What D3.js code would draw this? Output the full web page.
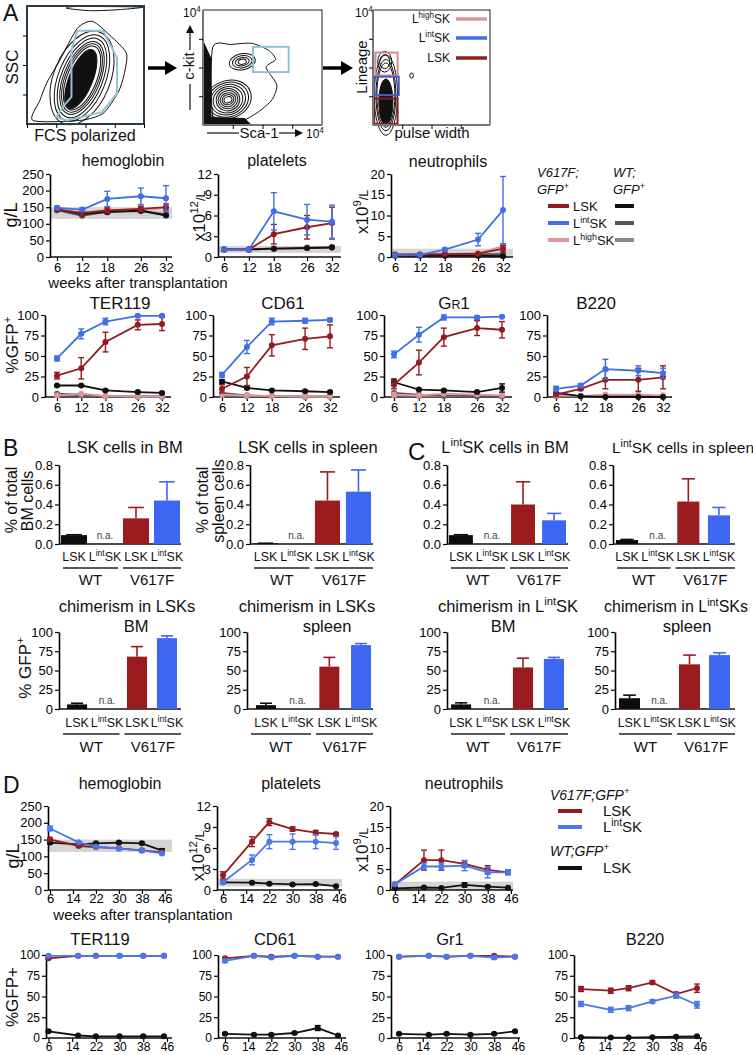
<!DOCTYPE html>
<html>
<head>
<meta charset="utf-8">
<script src="https://cdn.jsdelivr.net/npm/d3@7"></script>
<style>
  body { margin: 0; background: #fff; }
  svg { display: block; }
</style>
</head>
<body>
<svg id="fig" width="753" height="1055"></svg>
<script>
// ---------- data ----------
const weeksA = [6, 12, 18, 26, 32];
const weeksD = [6, 16, 22, 30, 38, 45];
const tickWeeksD = [6, 14, 22, 30, 38, 46];

// panel A rows: V617F LSK, V617F LintSK, V617F LhighSK, WT LSK, WT LintSK, WT LhighSK
const seriesA = ["V617F LSK", "V617F LintSK", "V617F LhighSK", "WT LSK", "WT LintSK", "WT LhighSK"];
const colorsA = ["#931c20", "#3f6fe6", "#e0959b", "#111111", "#555555", "#8a8a8a"];

const hgbA = [[143, 133, 140, 145, 150], [148, 143, 175, 183, 177], [145, 132, 141, 143, 148],
              [143, 130, 135, 140, 125], [141, 124, 137, 138, 127], [142, 127, 138, 139, 130]];
const hgbA_err = [[4, 8, 8, 8, 10], [5, 5, 23, 25, 38], null, [3, 4, 4, 4, 2], null, null];
const pltA = [[1.1, 1.1, 3.3, 4.3, 4.9], [1.1, 1.1, 6.6, 5.4, 5.1], [1.1, 1.1, 1.3, 1.4, 1.5],
              [1.1, 1.1, 1.2, 1.3, 1.4], [1.1, 1.1, 1.2, 1.3, 1.4], [1.1, 1.1, 1.2, 1.3, 1.3]];
const pltA_err = [[0.1, 0.1, 1.4, 1.7, 2.3], [0.1, 0.1, 2.7, 2.2, 2.4], null, null, null, null];
const neuA = [[0.6, 0.6, 0.7, 0.8, 2.0], [0.4, 0.5, 1.8, 4.2, 11.3], [0.6, 0.6, 0.7, 0.9, 2.6],
              [0.3, 0.3, 0.3, 0.3, 0.2], [0.5, 0.5, 0.5, 0.6, 0.6], [0.5, 0.6, 0.6, 0.7, 0.8]];
const neuA_err = [[0.1, 0.1, 0.1, 0.2, 0.8], [0.1, 0.1, 0.3, 1.5, 8.1], [0.1, 0.1, 0.1, 0.2, 0.6], null, null, null];
const terA = [[26, 35, 67, 88, 89], [47, 77, 92, 99, 99], [2, 4, 1, 1, 1],
              [14, 14, 8, 6, 5], [4, 3, 1, 1, 1], [2, 2, 1, 0, 0]];
const terA_err = [[4, 13, 12, 6, 8], [3, 6, 4, 1, 1], null, [1, 1, 1, 1, 1], null, null];
const cd61A = [[10, 25, 63, 71, 74], [27, 61, 92, 93, 94], [3, 2, 1, 1, 1],
               [19, 11, 8, 7, 6], [5, 2, 1, 1, 1], [2, 1, 1, 0, 0]];
const cd61A_err = [[5, 11, 13, 13, 14], [3, 8, 4, 3, 2], null, [2, 1, 1, 1, 1], null, null];
const gr1A = [[15, 42, 73, 84, 82], [52, 76, 97, 97, 98], [3, 2, 4, 3, 2],
              [18, 9, 8, 6, 11], [5, 3, 2, 1, 1], [2, 1, 1, 1, 1]];
const gr1A_err = [[5, 15, 11, 9, 10], [4, 9, 3, 2, 1], null, [4, 1, 1, 1, 5], null, null];
const b220A = [[3, 10, 21, 21, 24], [10, 14, 34, 32, 29], [2, 1, 3, 3, 2],
               [5, 1, 0, 0, 0], [2, 1, 1, 1, 1], [1, 1, 1, 1, 1]];
const b220A_err = [[1, 2, 11, 14, 14], [3, 2, 12, 6, 6], null, null, null, null];

// panel D rows: V617F LSK, V617F LintSK, WT LSK
const colorsD = ["#931c20", "#4a78e8", "#111111"];
const hgbD = [[151, 131, 128, 124, 118, 112], [183, 142, 129, 123, 117, 109], [141, 136, 139, 141, 139, 117]];
const hgbD_err = [[4, 4, 4, 3, 3, 3], [7, 3, 3, 3, 4, 4], [4, 3, 3, 3, 3, 6]];
const pltD = [[2.1, 6.9, 9.7, 8.7, 8.2, 8.0], [1.1, 4.3, 6.9, 6.9, 6.9, 6.7], [1.1, 1.05, 0.9, 0.8, 0.85, 0.55]];
const pltD_err = [[0.5, 0.7, 0.5, 0.3, 0.3, 0.2], [0.2, 0.7, 1.0, 1.1, 1.0, 0.9], [0.1, 0.1, 0.1, 0.1, 0.1, 0.1]];
const neuD = [[1.3, 7.1, 7.1, 6.2, 4.8, 4.2], [1.4, 5.6, 5.6, 5.8, 4.2, 4.2], [0.4, 0.6, 0.5, 1.2, 0.8, 0.55]];
const neuD_err = [[0.3, 2.4, 2.4, 0.8, 1.0, 0.5], [0.3, 0.8, 0.8, 1.2, 1.3, 0.6], [0.1, 0.1, 0.1, 0.5, 0.2, 0.1]];
const terD = [[96, 99, 99, 99, 99, 99], [99, 99, 99, 99, 99, 99], [8, 3, 2, 2, 2, 2]];
const terD_err = [[1, 1, 1, 1, 1, 1], [1, 1, 1, 1, 1, 1], [1, 1, 1, 1, 1, 1]];
const cd61D = [[96, 99, 98, 99, 98, 98], [93, 99, 97, 99, 98, 98], [5, 4, 4, 6, 12, 3]];
const cd61D_err = [[1, 1, 1, 1, 1, 1], [2, 1, 1, 1, 1, 1], [1, 1, 1, 1, 3, 1]];
const gr1D = [[98, 99, 98, 99, 99, 98], [98, 99, 98, 99, 97, 98], [5, 4, 5, 4, 5, 8]];
const gr1D_err = [[1, 1, 1, 1, 1, 1], [1, 1, 1, 1, 2, 1], [1, 1, 1, 1, 1, 1]];
const b220D = [[59, 57, 60, 67, 53, 60], [41, 34, 36, 44, 51, 40], [1, 0.5, 0.5, 1, 1.5, 2]];
const b220D_err = [[3, 3, 3, 2, 2, 5], [3, 3, 3, 2, 3, 4], [0.5, 0.5, 0.5, 0.5, 0.5, 0.5]];

// panels B and C bars: WT LSK, WT LintSK (n.a.), V617F LSK, V617F LintSK
const barCats = ["WT LSK", "WT LintSK", "V617F LSK", "V617F LintSK"];
const barLabels = ["LSK", "L^{int}SK", "LSK", "L^{int}SK"];
const barColors = ["#0d0d0d", "#0d0d0d", "#9a1c1f", "#3d66f2"];
const lskBM = [0.09, null, 0.26, 0.44],       lskBM_err = [0.004, null, 0.11, 0.19];
const lskSpleen = [0.006, null, 0.44, 0.53],  lskSpleen_err = [0.002, null, 0.29, 0.22];
const lintBM = [0.09, null, 0.40, 0.24],      lintBM_err = [0.004, null, 0.23, 0.07];
const lintSpleen = [0.04, null, 0.43, 0.29],  lintSpleen_err = [0.006, null, 0.23, 0.08];
const chimLskBM = [6, null, 68, 92],          chimLskBM_err = [1.5, null, 13, 3];
const chimLskSpleen = [5, null, 55, 83],      chimLskSpleen_err = [2.5, null, 12, 2];
const chimLintBM = [6, null, 54, 65],         chimLintBM_err = [2, null, 12, 2];
const chimLintSpleen = [14, null, 58, 70],    chimLintSpleen_err = [4, null, 12, 3];

// flow plots (0-100 display units)
const flow1Levels = [[42, 24], [39, 20], [36, 17.5], [33, 15.5], [31, 14], [29, 12.5]];
const flow1Outer = [[5, 3], [11, 20], [17, 35], [28, 54], [43, 81], [56, 87], [71, 75], [85, 60], [83, 42], [78, 27], [65, 9], [45, 3]];
const flow1Top = [[34, 98], [55, 96], [80, 97], [99, 99], [70, 99.5], [40, 99.5]];
const flow1Gate = [[43, 79], [65, 79], [77, 56], [77, 26], [64, 10], [34, 3], [25, 6], [31, 15], [38, 23], [38, 63]];
const flow2Levels = [[20, 16.5], [17.6, 14.8], [15, 13], [12.6, 11.3], [10, 9.6], [8.4, 7.8], [6.7, 6], [5, 4.3], [3.4, 2.6]];
const flow2Small = [[11, 7], [8.4, 5.2], [5.9, 3.5], [3.4, 2.2]];
const flow2Outer = [[8, 67], [24, 70], [41, 71], [55, 65], [61, 57], [53, 50], [62, 35], [58, 22], [46, 11], [31, 3], [9, 3]];
const flow2Wedge = [[0, 74], [7, 58], [7, 7], [35, 6], [41, 0], [0, 0]];
const flow2Gate = [42, 46, 72, 68];
const flow3Levels = [[10, 35], [8.5, 31], [7.7, 28]];
const flow3Top = [[6, 9], [4.3, 6]];
const flow3Gates = [[2, 43, 21, 63, "#d98a90"], [1, 26, 22, 42, "#3f5fd0"], [1, 1, 21, 23, "#8b1a1d"]];

// ---------- helpers ----------
const FONT = "'Liberation Sans', Arial, Helvetica, sans-serif";
const svg = d3.select("#fig");
svg.append("rect").attr("width", 753).attr("height", 1055).attr("fill", "#fff");

function rich(t, s, fs) {
  const parts = s.split(/(\^\{[^}]*\}|_\{[^}]*\})/).filter(p => p !== "");
  let cur = 0;
  parts.forEach(p => {
    let txt = p, off = 0, size = fs;
    if (p.startsWith("^{")) { txt = p.slice(2, -1); off = -0.4 * fs; size = 0.68 * fs; }
    else if (p.startsWith("_{")) { txt = p.slice(2, -1); size = 0.72 * fs; }
    t.append("tspan").attr("dy", off - cur).attr("font-size", size).text(txt);
    cur = off;
  });
}

function label(x, y, s, fs, opts = {}) {
  const t = svg.append("text")
    .attr("x", x).attr("y", y)
    .attr("font-size", fs).attr("font-family", FONT)
    .attr("text-anchor", opts.anchor || "middle")
    .attr("fill", opts.fill || "#111");
  if (opts.rotate) t.attr("transform", `rotate(${opts.rotate},${x},${y})`);
  if (opts.italic) t.attr("font-style", "italic");
  rich(t, s, fs);
  return t;
}

function lineChart(o) {
  const x = d3.scaleLinear().domain([o.weeks[0], o.weeks[o.weeks.length - 1]]).range(o.px);
  const y = d3.scaleLinear().domain([0, o.yMax]).range([o.yBot, o.yTop]);
  const g = svg.append("g");
  if (o.band) {
    g.append("rect")
      .attr("x", o.axisX).attr("y", y(o.band[1]))
      .attr("width", o.xEnd - o.axisX).attr("height", y(o.band[0]) - y(o.band[1]))
      .attr("fill", "#d5d5d5");
  }
  const ya = g.append("g").attr("transform", `translate(${o.axisX},0)`)
    .call(d3.axisLeft(y).tickValues(o.yTicks).tickSize(4).tickSizeOuter(0).tickPadding(2))
    .attr("font-size", o.fs).attr("font-family", FONT);
  ya.select(".domain").attr("stroke-width", 1.6);
  ya.selectAll(".tick line").attr("stroke-width", 1.2);
  const xa = g.append("g").attr("transform", `translate(0,${o.yBot})`)
    .call(d3.axisBottom(x).tickValues(o.xTicks).tickFormat(d3.format("d")).tickSize(4).tickPadding(o.xPad))
    .attr("font-size", o.fs).attr("font-family", FONT);
  xa.select(".domain").remove();
  xa.selectAll(".tick line").attr("stroke-width", 1.2);
  g.append("line")
    .attr("x1", o.axisX).attr("x2", o.xEnd).attr("y1", o.yBot).attr("y2", o.yBot)
    .attr("stroke", "#111").attr("stroke-width", 1.6);

  o.order.forEach(i => {
    const col = o.colors[i];
    const errs = o.err ? o.err[i] : null;
    const pts = o.weeks.map((w, k) => ({ w, v: o.vals[i][k], e: errs ? errs[k] : 0 }));
    g.append("path").datum(pts)
      .attr("fill", "none").attr("stroke", col).attr("stroke-width", 1.8)
      .attr("d", d3.line().x(d => x(d.w)).y(d => y(d.v)));
    const eb = g.append("g").attr("stroke", col).attr("stroke-width", 1.4);
    pts.filter(d => d.e > 0).forEach(d => {
      const lo = Math.max(0, d.v - d.e), hi = d.v + d.e;
      eb.append("line").attr("x1", x(d.w)).attr("x2", x(d.w)).attr("y1", y(lo)).attr("y2", y(hi));
      [lo, hi].forEach(v => eb.append("line")
        .attr("x1", x(d.w) - 3).attr("x2", x(d.w) + 3).attr("y1", y(v)).attr("y2", y(v)));
    });
    g.append("g").selectAll("circle").data(pts).join("circle")
      .attr("cx", d => x(d.w)).attr("cy", d => y(d.v)).attr("r", 3).attr("fill", col);
  });
  if (o.title) label(o.titleX, o.titleY, o.title, o.titleFs || 16);
}

function barChart(o) {
  const x = d3.scaleBand().domain(barCats).range(o.band).paddingInner(o.pad).paddingOuter(0);
  const y = d3.scaleLinear().domain([0, o.yMax]).range([o.yBot, o.yTop]);
  const bw = x.bandwidth();
  const g = svg.append("g");
  const ya = g.append("g").attr("transform", `translate(${o.axisX},0)`)
    .call(d3.axisLeft(y).tickValues(o.yTicks).tickFormat(o.fmt).tickSize(4).tickSizeOuter(0).tickPadding(2))
    .attr("font-size", 13).attr("font-family", FONT);
  ya.select(".domain").attr("stroke-width", 1.6);
  ya.selectAll(".tick line").attr("stroke-width", 1.2);
  g.append("line")
    .attr("x1", o.axisX).attr("x2", o.xEnd).attr("y1", o.yBot).attr("y2", o.yBot)
    .attr("stroke", "#111").attr("stroke-width", 1.6);

  barCats.forEach((c, i) => {
    const v = o.vals[i], e = o.err[i];
    const cx = x(c) + bw / 2;
    label(cx, o.labY, barLabels[i], 12.5);
    if (v == null) {
      label(cx, o.yBot - 5, "n.a.", 10, { fill: "#444" });
      return;
    }
    g.append("rect")
      .attr("x", x(c)).attr("width", bw)
      .attr("y", y(v)).attr("height", o.yBot - y(v))
      .attr("fill", barColors[i]);
    g.append("line").attr("x1", cx).attr("x2", cx).attr("y1", y(v)).attr("y2", y(v + e))
      .attr("stroke", barColors[i]).attr("stroke-width", 1.6);
    g.append("line").attr("x1", cx - bw * 0.3).attr("x2", cx + bw * 0.3)
      .attr("y1", y(v + e)).attr("y2", y(v + e))
      .attr("stroke", barColors[i]).attr("stroke-width", 1.6);
  });

  const mid = (x(barCats[1]) + bw + x(barCats[2])) / 2;
  const groups = [["WT", o.axisX + 4, mid - 2.5], ["V617F", mid + 2.5, o.xEnd]];
  groups.forEach(([name, a, b]) => {
    g.append("line").attr("x1", a).attr("x2", b).attr("y1", o.lineY).attr("y2", o.lineY)
      .attr("stroke", "#222").attr("stroke-width", 1.3);
    label((a + b) / 2, o.grpY, name, 15);
  });
  o.titles.forEach(([s, tx, ty, fs]) => label(tx, ty, s, fs || 16.5));
  (o.ylab || []).forEach(([s, lx, ly, fs]) => label(lx, ly, s, fs, { rotate: -90 }));
}

function ellipse(g, cx, cy, rx, ry, rot, fill, sw) {
  g.append("ellipse")
    .attr("cx", cx).attr("cy", cy).attr("rx", rx).attr("ry", ry)
    .attr("transform", `rotate(${rot},${cx},${cy})`)
    .attr("fill", fill || "none").attr("stroke", "#111").attr("stroke-width", sw || 1);
}

function arrow(x1, x2, y) {
  svg.append("line").attr("x1", x1).attr("x2", x2 - 10).attr("y1", y).attr("y2", y)
    .attr("stroke", "#000").attr("stroke-width", 3.5);
  svg.append("path").attr("d", `M${x2 - 12},${y - 7} L${x2},${y} L${x2 - 12},${y + 7} Z`).attr("fill", "#000");
}

// ---------- panel A: flow plots ----------
label(3, 21, "A", 23, { anchor: "start" });

// plot 1
{
  const fx = d3.scaleLinear().domain([0, 100]).range([27, 144]);
  const fy = d3.scaleLinear().domain([0, 100]).range([124, 6]);
  const g = svg.append("g");
  const closed = d3.line().x(d => fx(d[0])).y(d => fy(d[1])).curve(d3.curveCardinalClosed.tension(0.3));
  g.append("path").attr("d", closed(flow1Outer)).attr("fill", "none").attr("stroke", "#111");
  g.append("path").attr("d", closed(flow1Top)).attr("fill", "none").attr("stroke", "#111");
  const cx = fx(47), cy = fy(39);
  flow1Levels.forEach(([rx, ry]) => ellipse(g, cx, cy, fx(rx) - fx(0), fy(0) - fy(ry), -68));
  ellipse(g, fx(46), fy(38), fx(27) - fx(0), fy(0) - fy(10), -68, "#111");
  g.append("path").attr("d", d3.line().x(d => fx(d[0])).y(d => fy(d[1])).curve(d3.curveLinearClosed)(flow1Gate))
    .attr("fill", "none").attr("stroke", "#8fc4d6").attr("stroke-width", 2);
  g.append("rect").attr("x", 27).attr("y", 6).attr("width", 117).attr("height", 118)
    .attr("fill", "none").attr("stroke", "#2b3a47").attr("stroke-width", 2);
  g.append("g").attr("transform", "translate(27,0)")
    .call(d3.axisLeft(fy).tickValues([25, 50, 75]).tickFormat("").tickSize(4)).select(".domain").remove();
  g.append("g").attr("transform", "translate(0,124)")
    .call(d3.axisBottom(fx).tickValues([0, 25, 50, 75, 100]).tickFormat("").tickSize(4)).select(".domain").remove();
  label(18, 67, "SSC", 17, { rotate: -90 });
  label(85, 141, "FCS polarized", 16);
}
arrow(148, 177, 68);

// plot 2
{
  const fx = d3.scaleLinear().domain([0, 100]).range([203, 322]);
  const fy = d3.scaleLinear().domain([0, 100]).range([125, 10]);
  const g = svg.append("g");
  const closed = d3.line().x(d => fx(d[0])).y(d => fy(d[1])).curve(d3.curveCardinalClosed.tension(0.3));
  g.append("path").attr("d", closed(flow2Outer)).attr("fill", "none").attr("stroke", "#111");
  flow2Levels.forEach(([rx, ry]) => ellipse(g, fx(21), fy(22), fx(rx) - fx(0), fy(0) - fy(ry), -20));
  flow2Small.forEach(([rx, ry]) => ellipse(g, fx(33), fy(55), fx(rx) - fx(0), fy(0) - fy(ry), -10));
  g.append("path").attr("d", d3.line().x(d => fx(d[0])).y(d => fy(d[1])).curve(d3.curveLinearClosed)(flow2Wedge))
    .attr("fill", "#111");
  g.append("rect")
    .attr("x", fx(flow2Gate[0])).attr("y", fy(flow2Gate[3]))
    .attr("width", fx(flow2Gate[2]) - fx(flow2Gate[0])).attr("height", fy(flow2Gate[1]) - fy(flow2Gate[3]))
    .attr("fill", "none").attr("stroke", "#8fc4d6").attr("stroke-width", 2);
  g.append("rect").attr("x", 203).attr("y", 10).attr("width", 119).attr("height", 115)
    .attr("fill", "none").attr("stroke", "#222").attr("stroke-width", 1);
  g.append("line").attr("x1", 203).attr("x2", 203).attr("y1", 10).attr("y2", 125).attr("stroke", "#777").attr("stroke-width", 2);
  g.append("line").attr("x1", 203).attr("x2", 322).attr("y1", 125).attr("y2", 125).attr("stroke", "#777").attr("stroke-width", 2);
  g.append("g").attr("transform", "translate(203,0)")
    .call(d3.axisLeft(fy).tickValues([25, 50, 75]).tickFormat("").tickSize(4)).select(".domain").remove();
  g.append("g").attr("transform", "translate(0,125)")
    .call(d3.axisBottom(fx).tickValues([25, 50, 75]).tickFormat("").tickSize(4)).select(".domain").remove();
  label(183, 17, "10^{4}", 12, { anchor: "start" });
  // c-kit with arrow
  label(194, 66, "c-kit", 15, { rotate: -90 });
  svg.append("line").attr("x1", 190).attr("x2", 190).attr("y1", 84).attr("y2", 110).attr("stroke", "#111").attr("stroke-width", 1.2);
  svg.append("line").attr("x1", 190).attr("x2", 190).attr("y1", 50).attr("y2", 31).attr("stroke", "#111").attr("stroke-width", 1.2);
  svg.append("path").attr("d", "M186,33 L190,25 L194,33 Z").attr("fill", "#111");
  // Sca-1 with arrow
  label(259, 138, "Sca-1", 15);
  svg.append("line").attr("x1", 207).attr("x2", 239).attr("y1", 133).attr("y2", 133).attr("stroke", "#111").attr("stroke-width", 1.2);
  svg.append("line").attr("x1", 279).attr("x2", 297).attr("y1", 133).attr("y2", 133).attr("stroke", "#111").attr("stroke-width", 1.2);
  svg.append("path").attr("d", "M295,129 L303,133 L295,137 Z").attr("fill", "#111");
  label(306, 138, "10^{4}", 12, { anchor: "start" });
}
arrow(323, 353, 68);

// plot 3
{
  const fx = d3.scaleLinear().domain([0, 100]).range([373, 490]);
  const fy = d3.scaleLinear().domain([0, 100]).range([125, 10]);
  const g = svg.append("g");
  flow3Levels.forEach(([rx, ry]) => ellipse(g, fx(11), fy(26), fx(rx) - fx(0), fy(0) - fy(ry), 0));
  ellipse(g, fx(11), fy(20), fx(6) - fx(0), fy(0) - fy(20), 0, "#111");
  flow3Top.forEach(([rx, ry]) => ellipse(g, fx(10), fy(55), fx(rx) - fx(0), fy(0) - fy(ry), 0));
  ellipse(g, fx(33), fy(43), 1.8, 2.6, 0);
  flow3Gates.forEach(([u0, v0, u1, v1, col]) => g.append("rect")
    .attr("x", fx(u0)).attr("y", fy(v1)).attr("width", fx(u1) - fx(u0)).attr("height", fy(v0) - fy(v1))
    .attr("fill", "none").attr("stroke", col).attr("stroke-width", 2));
  g.append("rect").attr("x", 373).attr("y", 10).attr("width", 117).attr("height", 115)
    .attr("fill", "none").attr("stroke", "#222").attr("stroke-width", 1);
  g.append("line").attr("x1", 373).attr("x2", 373).attr("y1", 10).attr("y2", 125).attr("stroke", "#777").attr("stroke-width", 2);
  g.append("line").attr("x1", 373).attr("x2", 490).attr("y1", 125).attr("y2", 125).attr("stroke", "#777").attr("stroke-width", 2);
  g.append("g").attr("transform", "translate(373,0)")
    .call(d3.axisLeft(fy).tickValues([25, 50, 75]).tickFormat("").tickSize(4)).select(".domain").remove();
  g.append("g").attr("transform", "translate(0,125)")
    .call(d3.axisBottom(fx).tickValues([25, 50, 75]).tickFormat("").tickSize(4)).select(".domain").remove();
  // legend inside
  const leg = [["L^{high}SK", "#e0959b", 23], ["L^{int}SK", "#3f6fe6", 42], ["LSK", "#931c20", 62]];
  leg.forEach(([s, col, ly]) => {
    label(450, ly, s, 12, { anchor: "end" });
    g.append("line").attr("x1", 456).attr("x2", 487).attr("y1", ly - 4).attr("y2", ly - 4)
      .attr("stroke", col).attr("stroke-width", 3.5);
  });
  label(355, 17, "10^{4}", 12, { anchor: "start" });
  label(367, 67, "Lineage", 15, { rotate: -90 });
  label(432, 138, "pulse width", 15);
}

// ---------- panel A: blood counts ----------
const orderA = [5, 4, 2, 3, 0, 1];
const rowA = { weeks: weeksA, xTicks: weeksA, fs: 13, xPad: 2, colors: colorsA, order: orderA, yTop: 174, yBot: 257 };
lineChart({ ...rowA, axisX: 50, xEnd: 172, px: [57, 166], yMax: 250, yTicks: [0, 50, 100, 150, 200, 250],
  vals: hgbA, err: hgbA_err, band: [115, 150], title: "hemoglobin", titleX: 123, titleY: 166 });
lineChart({ ...rowA, axisX: 218, xEnd: 341, px: [224, 332], yMax: 12, yTicks: [0, 3, 6, 9, 12],
  vals: pltA, err: pltA_err, band: [0.6, 1.6], title: "platelets", titleX: 277, titleY: 166 });
lineChart({ ...rowA, axisX: 391, xEnd: 513, px: [395, 503], yMax: 20, yTicks: [0, 5, 10, 15, 20],
  vals: neuA, err: neuA_err, band: [0, 2], title: "neutrophils", titleX: 448, titleY: 167 });
label(17, 215, "g/L", 18, { rotate: -90 });
label(205, 216, "x10^{12}_{/L}", 17, { rotate: -90 });
label(368, 212, "x10^{9}_{/L}", 17, { rotate: -90 });
label(138, 288, "weeks after transplantation", 15);

// legend A
label(537, 177, "V617F;", 13, { anchor: "start", italic: true });
label(537, 194, "GFP^{+}", 13, { anchor: "start", italic: true });
label(613, 177, "WT;", 13, { anchor: "start", italic: true });
label(613, 194, "GFP^{+}", 13, { anchor: "start", italic: true });
[["LSK", 0, 3, 206], ["L^{int}SK", 1, 4, 223], ["L^{high}SK", 2, 5, 240]].forEach(([s, vi, wi, ly]) => {
  svg.append("line").attr("x1", 548).attr("x2", 569).attr("y1", ly).attr("y2", ly)
    .attr("stroke", colorsA[vi]).attr("stroke-width", 4);
  label(573, ly + 5, s, 13, { anchor: "start" });
  svg.append("line").attr("x1", 615).attr("x2", 634).attr("y1", ly).attr("y2", ly)
    .attr("stroke", colorsA[wi]).attr("stroke-width", 4);
});

// ---------- panel A: lineages ----------
const rowA3 = { weeks: weeksA, xTicks: weeksA, fs: 13, xPad: 2, colors: colorsA, order: orderA,
  yTop: 315, yBot: 397, yMax: 100, yTicks: [0, 25, 50, 75, 100], titleFs: 17 };
lineChart({ ...rowA3, axisX: 45, xEnd: 171, px: [57, 162], vals: terA, err: terA_err, title: "TER119", titleX: 120, titleY: 309 });
lineChart({ ...rowA3, axisX: 213, xEnd: 340, px: [222, 330], vals: cd61A, err: cd61A_err, title: "CD61", titleX: 283, titleY: 309 });
lineChart({ ...rowA3, axisX: 384, xEnd: 512, px: [394, 502], vals: gr1A, err: gr1A_err, title: "G_{R}1", titleX: 454, titleY: 309 });
lineChart({ ...rowA3, axisX: 547, xEnd: 672, px: [556, 663], vals: b220A, err: b220A_err, title: "B220", titleX: 596, titleY: 309 });
label(18, 345, "%GFP^{+}", 17, { rotate: -90 });

// ---------- panels B and C ----------
label(3, 456, "B", 23, { anchor: "start" });
label(408, 460, "C", 24, { anchor: "start" });
const topRow = { yTop: 465, yBot: 544, yMax: 0.8, yTicks: [0, 0.2, 0.4, 0.6, 0.8], fmt: d3.format(".1f"),
  labY: 561, lineY: 568, grpY: 585 };
barChart({ ...topRow, axisX: 59, xEnd: 181, band: [61, 180], pad: 0.16, vals: lskBM, err: lskBM_err,
  titles: [["LSK cells in BM", 125, 453]], ylab: [["% of total", 17, 500, 16], ["BM cells", 33, 501, 16]] });
barChart({ ...topRow, axisX: 250, xEnd: 373, band: [253, 371], pad: 0.19, vals: lskSpleen, err: lskSpleen_err,
  titles: [["LSK cells in spleen", 308, 453]], ylab: [["% of total", 208, 500, 16], ["spleen cells", 224, 501, 16]] });
barChart({ ...topRow, axisX: 447, xEnd: 568, band: [449, 566], pad: 0.23, vals: lintBM, err: lintBM_err,
  titles: [["L^{int}SK cells in BM", 505, 453]] });
barChart({ ...topRow, axisX: 613, xEnd: 735, band: [616, 730], pad: 0.28, vals: lintSpleen, err: lintSpleen_err,
  titles: [["L^{int}SK cells in spleen", 683, 453, 15.5]] });

const botRow = { yTop: 632, yBot: 709, yMax: 100, yTicks: [0, 25, 50, 75, 100], fmt: d3.format("d"),
  labY: 727, lineY: 734, grpY: 752 };
barChart({ ...botRow, axisX: 59, xEnd: 181, band: [67, 177], pad: 0.33, vals: chimLskBM, err: chimLskBM_err,
  titles: [["chimerism in LSKs", 127, 612], ["BM", 136, 632]], ylab: [["% GFP^{+}", 31, 668, 17]] });
barChart({ ...botRow, axisX: 247, xEnd: 373, band: [256, 371], pad: 0.37, vals: chimLskSpleen, err: chimLskSpleen_err,
  titles: [["chimerism in LSKs", 307, 612], ["spleen", 327, 632]] });
barChart({ ...botRow, axisX: 447, xEnd: 568, band: [451, 564], pad: 0.35, vals: chimLintBM, err: chimLintBM_err,
  titles: [["chimerism in  L^{int}SK", 508, 612], ["BM", 503, 632]] });
barChart({ ...botRow, axisX: 615, xEnd: 735, band: [619, 730], pad: 0.3, vals: chimLintSpleen, err: chimLintSpleen_err,
  titles: [["chimerism in L^{int}SKs", 676, 612, 16], ["spleen", 687, 632]] });

// ---------- panel D ----------
label(3, 793, "D", 23, { anchor: "start" });
const orderD = [2, 0, 1];
const rowD = { weeks: weeksD, xTicks: tickWeeksD, fs: 13, xPad: 0, colors: colorsD, order: orderD, yTop: 806, yBot: 890 };
lineChart({ ...rowD, axisX: 48, xEnd: 172, px: [50, 162], yMax: 250, yTicks: [0, 50, 100, 150, 200, 250],
  vals: hgbD, err: hgbD_err, band: [113, 150], title: "hemoglobin", titleX: 120, titleY: 789 });
lineChart({ ...rowD, axisX: 217, xEnd: 342, px: [223, 336], yMax: 12, yTicks: [0, 3, 6, 9, 12],
  vals: pltD, err: pltD_err, band: [0.5, 1.6], title: "platelets", titleX: 291, titleY: 789 });
lineChart({ ...rowD, axisX: 390, xEnd: 513, px: [395, 508], yMax: 20, yTicks: [0, 5, 10, 15, 20],
  vals: neuD, err: neuD_err, band: [0, 2], title: "neutrophils", titleX: 464, titleY: 789 });
label(19, 856, "g/L", 18, { rotate: -90 });
label(204, 856, "x10^{12}_{/L}", 17, { rotate: -90 });
label(368, 850, "x10^{9}_{/L}", 17, { rotate: -90 });
label(143, 920, "weeks after transplantation", 15);

// legend D
label(550, 800, "V617F;GFP^{+}", 14, { anchor: "start", italic: true });
label(550, 856, "WT;GFP^{+}", 14, { anchor: "start", italic: true });
[["LSK", 0, 811], ["L^{int}SK", 1, 827], ["LSK", 2, 868]].forEach(([s, ci, ly]) => {
  svg.append("line").attr("x1", 558).attr("x2", 582).attr("y1", ly).attr("y2", ly)
    .attr("stroke", colorsD[ci]).attr("stroke-width", 4);
  label(603, ly + 5, s, 15, { anchor: "start" });
});

const rowD2 = { weeks: weeksD, xTicks: tickWeeksD, fs: 12, xPad: 0, colors: colorsD, order: orderD,
  yTop: 955, yBot: 1038, yMax: 100, yTicks: [0, 25, 50, 75, 100], titleFs: 16.5 };
lineChart({ ...rowD2, axisX: 46, xEnd: 172, px: [48.5, 164], vals: terD, err: terD_err, title: "TER119", titleX: 100, titleY: 945 });
lineChart({ ...rowD2, axisX: 218, xEnd: 346, px: [225, 338], vals: cd61D, err: cd61D_err, title: "CD61", titleX: 275, titleY: 945 });
lineChart({ ...rowD2, axisX: 391, xEnd: 520, px: [399, 515], vals: gr1D, err: gr1D_err, title: "Gr1", titleX: 450, titleY: 945 });
lineChart({ ...rowD2, axisX: 574, xEnd: 702, px: [581, 697], vals: b220D, err: b220D_err, title: "B220", titleX: 645, titleY: 945 });
label(18, 997, "%GFP+", 17, { rotate: -90 });
</script>
</body>
</html>
